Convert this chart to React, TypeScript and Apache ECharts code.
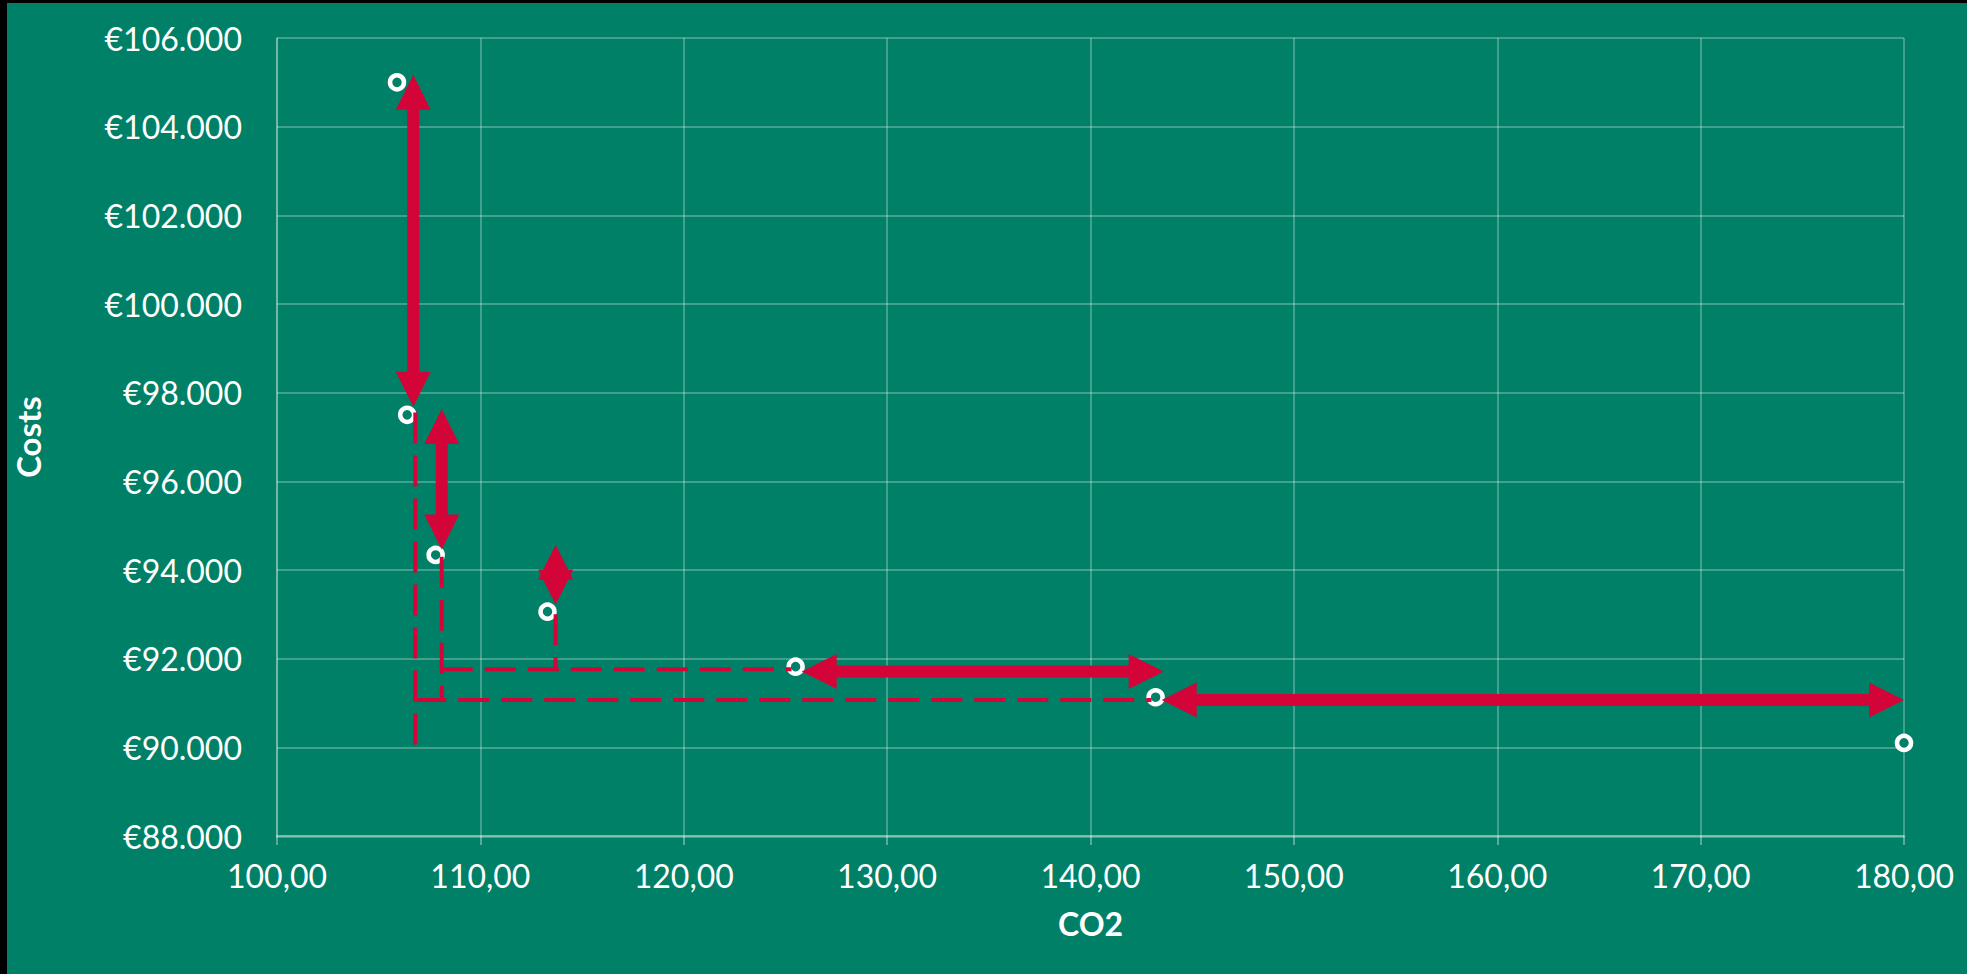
import React, { useEffect, useRef } from 'react';
import * as echarts from 'echarts';

const GREEN = '#008066';
const RED = '#D30538';
const GRIDC = 'rgba(255,255,255,0.35)';
const FONT = 'Lato, "Noto Sans", sans-serif';

// Data points (CO2, Costs)
const co2 = [105.9, 106.4, 107.8, 113.3, 125.5, 143.2, 180.0];
const costs = [105000, 97500, 94340, 93060, 91820, 91130, 90100];

// Double-headed arrows (from -> to), in data units
const arrowFromX = [106.7, 108.1, 113.7, 125.8, 143.5];
const arrowFromY = [105170, 97630, 94570, 91710, 91070];
const arrowToX = [106.7, 108.1, 113.7, 143.6, 180.0];
const arrowToY = [97680, 94460, 93220, 91710, 91070];

// Dashed guide lines
const guideFromX = [106.8, 106.8, 108.1, 108.1, 113.7];
const guideFromY = [97550, 91070, 94300, 91760, 93000];
const guideToX = [106.8, 143.0, 108.1, 125.3, 113.7];
const guideToY = [90000, 91070, 91070, 91760, 91760];

const X_MIN = 100, X_MAX = 180, X_STEP = 10;
const Y_MIN = 88000, Y_MAX = 106000, Y_STEP = 2000;

function fmtEuro(v: number) {
  const s = Math.round(v).toString().replace(/\B(?=(\d{3})+(?!\d))/g, '.');
  return '€' + s;
}
function fmtCo2(v: number) {
  return v.toFixed(2).replace('.', ',');
}

function renderArrow(params: any, api: any) {
  const p1 = api.coord([api.value(0), api.value(1)]);
  const p2 = api.coord([api.value(2), api.value(3)]);
  const dx = p2[0] - p1[0];
  const dy = p2[1] - p1[1];
  const len = Math.sqrt(dx * dx + dy * dy) || 1;
  const ux = dx / len, uy = dy / len;
  const nx = -uy, ny = ux;
  const H = 35, W = 17.5, S = 6;
  const children: any[] = [];
  if (len > 2 * H) {
    const a = [p1[0] + ux * (H - 1), p1[1] + uy * (H - 1)];
    const b = [p2[0] - ux * (H - 1), p2[1] - uy * (H - 1)];
    children.push({
      type: 'polygon',
      shape: { points: [
        [a[0] + nx * S, a[1] + ny * S],
        [b[0] + nx * S, b[1] + ny * S],
        [b[0] - nx * S, b[1] - ny * S],
        [a[0] - nx * S, a[1] - ny * S],
      ] },
      style: { fill: RED },
    });
  }
  const base2 = [p2[0] - ux * H, p2[1] - uy * H];
  const base1 = [p1[0] + ux * H, p1[1] + uy * H];
  children.push({
    type: 'polygon',
    shape: { points: [p2, [base2[0] + nx * W, base2[1] + ny * W], [base2[0] - nx * W, base2[1] - ny * W]] },
    style: { fill: RED },
  });
  children.push({
    type: 'polygon',
    shape: { points: [p1, [base1[0] + nx * W, base1[1] + ny * W], [base1[0] - nx * W, base1[1] - ny * W]] },
    style: { fill: RED },
  });
  return { type: 'group', children };
}

export default function App() {
  const ref = useRef<HTMLDivElement>(null);
  useEffect(() => {
    if (!ref.current) return;
    const chart = echarts.init(ref.current, null, { renderer: 'svg' });
    const guideSeries = guideFromX.map((_, i) => ({
      type: 'line',
      data: [[guideFromX[i], guideFromY[i]], [guideToX[i], guideToY[i]]],
      symbol: 'none',
      silent: true,
      z: 5,
      lineStyle: { color: RED, width: 4, type: [31, 12] },
    }));
    const arrowData = arrowFromX.map((_, i) => [arrowFromX[i], arrowFromY[i], arrowToX[i], arrowToY[i]]);
    const option: any = {
      animation: false,
      backgroundColor: GREEN,
      grid: { left: 270, top: 35, right: 63, bottom: 138, containLabel: false, outerBoundsMode: 'none' },
      xAxis: {
        type: 'value',
        min: X_MIN,
        max: X_MAX,
        interval: X_STEP,
        name: 'CO2',
        nameLocation: 'middle',
        nameGap: 71,
        nameTextStyle: { color: '#fff', fontFamily: FONT, fontWeight: 'bold', fontSize: 32 },
        axisLine: { show: true, lineStyle: { color: GRIDC, width: 2.5 } },
        axisTick: { show: true, length: 9, lineStyle: { color: GRIDC, width: 2 } },
        axisLabel: { color: '#fff', fontFamily: FONT, fontSize: 32, margin: 23, formatter: fmtCo2 },
        splitLine: { show: true, lineStyle: { color: GRIDC, width: 1.5 } },
      },
      yAxis: {
        type: 'value',
        min: Y_MIN,
        max: Y_MAX,
        interval: Y_STEP,
        name: 'Costs',
        nameLocation: 'middle',
        nameRotate: 90,
        nameGap: 233,
        nameTextStyle: { color: '#fff', fontFamily: FONT, fontWeight: 'bold', fontSize: 33 },
        axisLine: { show: true, lineStyle: { color: GRIDC, width: 1.5 } },
        axisTick: { show: false },
        axisLabel: { color: '#fff', fontFamily: FONT, fontSize: 32, margin: 35, formatter: fmtEuro },
        splitLine: { show: true, lineStyle: { color: GRIDC, width: 1.5 } },
      },
      series: [
        {
          type: 'scatter',
          data: co2.map((x, i) => [x, costs[i]]),
          symbol: 'circle',
          symbolSize: 14,
          z: 3,
          itemStyle: { color: GREEN, borderColor: '#ffffff', borderWidth: 4.5, opacity: 1 },
        },
        ...guideSeries,
        {
          type: 'custom',
          renderItem: renderArrow,
          data: arrowData,
          encode: { x: [0, 2], y: [1, 3] },
          z: 6,
          silent: true,
        },
      ],
    };
    chart.setOption(option);
    return () => chart.dispose();
  }, []);
  return (
    <div style={{ position: 'fixed', left: 0, top: 0, width: 1967, height: 974, background: '#000' }}>
      <div
        ref={ref}
        style={{ position: 'absolute', left: 7, top: 3, width: 1960, height: 971, background: GREEN }}
      />
    </div>
  );
}
